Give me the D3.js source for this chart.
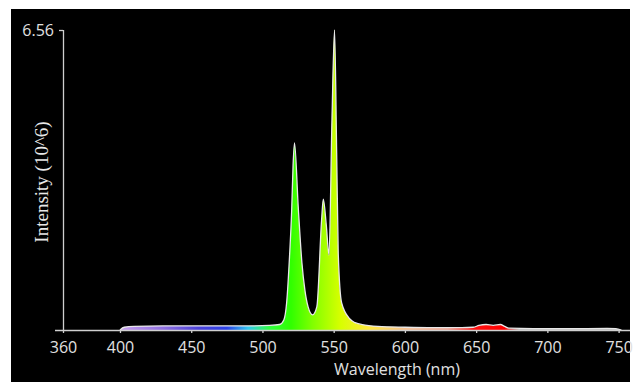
<!DOCTYPE html>
<html>
<head>
<meta charset="utf-8">
<script src="https://cdn.jsdelivr.net/npm/d3@7"></script>
<style>
    body { margin: 0; background: #fff; }
    svg { display: block; }
</style>
</head>
<body>
<svg id="chart"></svg>
<script>
// wavelength (nm) and intensity (10^6)
const wavelengths = [400, 403, 410, 430, 450, 470, 490, 505, 512, 515, 517, 519, 520.5, 521.5, 522.5,
    525.1, 527.7, 529.8, 532, 535.2, 538.2, 541.5, 542.7, 544.8, 546.7, 548.8, 550.6, 552.1, 553.2,
    555.6, 561.4, 565, 570, 581, 600, 620, 640, 648, 652, 657, 662, 667, 670, 673, 690, 720, 742, 748, 752];
const intensities = [0, 0.06, 0.08, 0.09, 0.09, 0.09, 0.09, 0.1, 0.12, 0.22, 0.6, 1.6, 2.6, 3.6, 4.09,
    2.7, 1.47, 0.87, 0.51, 0.33, 0.51, 2.4, 2.86, 2.3, 1.64, 4.6, 6.56, 3.87, 1.68,
    0.59, 0.24, 0.16, 0.12, 0.08, 0.06, 0.05, 0.05, 0.06, 0.1, 0.12, 0.1, 0.12, 0.08, 0.04, 0.03, 0.03, 0.035, 0.03, 0];

const xTicks = [360, 400, 450, 500, 550, 600, 650, 700, 750];
const yTicks = [6.56];

// colour stops of the visible spectrum used for the fill
const spectrumStops = [
    {nm: 400, color: "#c8a0f0"}, {nm: 430, color: "#9070e0"}, {nm: 455, color: "#4a40d8"},
    {nm: 475, color: "#2a40e8"}, {nm: 490, color: "#30c8f0"}, {nm: 505, color: "#30ff40"},
    {nm: 520, color: "#30ff00"}, {nm: 535, color: "#80ff00"}, {nm: 555, color: "#d8ff00"},
    {nm: 575, color: "#ffe840"}, {nm: 600, color: "#f8c090"}, {nm: 630, color: "#f0a090"},
    {nm: 648, color: "#ff1010"}, {nm: 670, color: "#ff0000"}, {nm: 680, color: "#c0c0c0"},
    {nm: 760, color: "#c0c0c0"}
];

const W = 635, H = 382;
const frame = {left: 11, top: 9, right: 630, bottom: 382};
const margin = {left: 63, top: 30, right: 630, bottom: 330};

const svg = d3.select("#chart").attr("width", W).attr("height", H);

svg.append("rect")
    .attr("x", frame.left).attr("y", frame.top)
    .attr("width", frame.right - frame.left).attr("height", frame.bottom - frame.top)
    .attr("fill", "#000");

// scales
const xScale = d3.scaleLinear().domain([360, 758]).range([margin.left, margin.right]);
const yScale = d3.scaleLinear().domain([0, 6.56]).range([margin.bottom, margin.top]);

// gradient along the x axis
const grad = svg.append("defs").append("linearGradient")
    .attr("id", "spectrum")
    .attr("gradientUnits", "userSpaceOnUse")
    .attr("x1", xScale(360)).attr("x2", xScale(758))
    .attr("y1", 0).attr("y2", 0);
grad.selectAll("stop")
    .data(spectrumStops)
    .join("stop")
    .attr("offset", d => (d.nm - 360) / (758 - 360))
    .attr("stop-color", d => d.color);

const data = wavelengths.map((w, i) => ({w: w, v: intensities[i]}));

const area = d3.area()
    .x(d => xScale(d.w))
    .y0(yScale(0))
    .y1(d => yScale(d.v))
    .curve(d3.curveMonotoneX);
const line = d3.line()
    .x(d => xScale(d.w))
    .y(d => yScale(d.v))
    .curve(d3.curveMonotoneX);

svg.append("path")
    .datum(data)
    .attr("d", area)
    .attr("fill", "url(#spectrum)");
svg.append("path")
    .datum(data)
    .attr("d", line)
    .attr("fill", "none")
    .attr("stroke", "#e8e8e8")
    .attr("stroke-width", 1.3)
    .attr("stroke-linejoin", "round");

// axes
const xAxis = d3.axisBottom(xScale).tickValues(xTicks).tickSize(3).tickPadding(9).tickSizeOuter(0);
const yAxis = d3.axisLeft(yScale).tickValues(yTicks).tickSize(4).tickPadding(5).tickSizeOuter(0)
    .tickFormat(d3.format(".2f"));

const xAxisG = svg.append("g")
    .attr("transform", `translate(0,${margin.bottom})`)
    .call(xAxis);
xAxisG.select(".domain").attr("d", `M${margin.left - 8},0.5H${frame.right}`);

const yAxisG = svg.append("g")
    .attr("transform", `translate(${margin.left},0)`)
    .call(yAxis);
yAxisG.select(".domain").attr("d", `M0.5,${margin.top}V${margin.bottom}`);

svg.selectAll(".domain, .tick line")
    .attr("stroke", "#cfcfcf")
    .attr("stroke-width", 1.3);
svg.selectAll(".tick text")
    .attr("fill", "#e0e0e0")
    .style("font-family", "'Open Sans', sans-serif")
    .style("font-size", "16px");

// axis labels
svg.append("text")
    .attr("x", 397).attr("y", 375)
    .attr("text-anchor", "middle")
    .attr("fill", "#e0e0e0")
    .style("font-family", "'Open Sans', sans-serif")
    .style("font-size", "16px")
    .text("Wavelength (nm)");

svg.append("text")
    .attr("transform", "translate(48,182) rotate(-90)")
    .attr("text-anchor", "middle")
    .attr("fill", "#e8e8e8")
    .style("font-family", "'Liberation Serif', serif")
    .style("font-size", "19px")
    .text("Intensity (10^6)");
</script>
</body>
</html>
